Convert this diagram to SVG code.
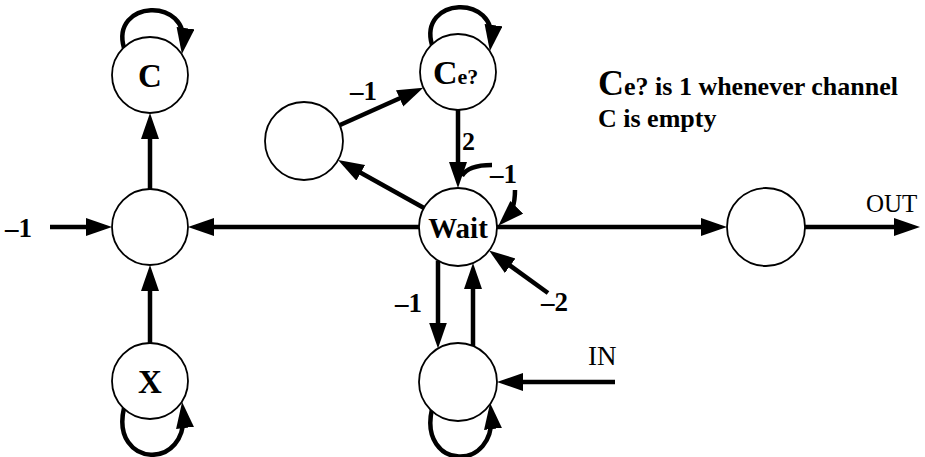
<svg xmlns="http://www.w3.org/2000/svg" width="925" height="457" viewBox="0 0 925 457">
<defs>
<marker id="ah" markerUnits="userSpaceOnUse" markerWidth="28" markerHeight="20" refX="18" refY="9" orient="auto">
<path d="M0,0 L26,9 L0,18 z" fill="#000"/>
</marker>
<style>
.n{fill:#fff;stroke:#000;stroke-width:1.8}
.e{fill:none;stroke:#000;stroke-width:4.5;marker-end:url(#ah)}
.p{fill:none;stroke:#000;stroke-width:4.5}
.t{font-family:"Liberation Serif","Times New Roman",serif;font-weight:bold;fill:#000}
.r{font-family:"Liberation Serif","Times New Roman",serif;fill:#000}
</style>
</defs>
<rect width="925" height="457" fill="#fff"/>
<g id="connectors">
<path class="e" d="M124,48 C110,0 190,-4 183,46"/>
<path class="e" d="M432,45 C418,-3 498,-7 491,43"/>
<path class="e" d="M124,408 C110,468 190,472 183,410"/>
<path class="e" d="M432,409 C418,470 498,474 491,411"/>
<line class="e" x1="150" y1="189" x2="150" y2="121"/>
<line class="e" x1="150" y1="343" x2="150" y2="273"/>
<line class="e" x1="50" y1="227" x2="104" y2="227"/>
<line class="e" x1="419" y1="227" x2="196" y2="227"/>
<line class="e" x1="497" y1="227" x2="719" y2="227"/>
<line class="e" x1="805" y1="227" x2="912" y2="227"/>
<line class="e" x1="424" y1="208" x2="345" y2="164"/>
<line class="e" x1="340" y1="125" x2="416" y2="91"/>
<line class="e" x1="458" y1="110" x2="458" y2="180"/>
<path class="p" d="M492,165 Q468,165 462,176"/>
<path class="e" d="M515,190 C515,205 512,212 504,220"/>
<line class="e" x1="548" y1="293" x2="495.6" y2="255.2"/>
<line class="e" x1="438" y1="260.5" x2="438" y2="340.5"/>
<line class="e" x1="473" y1="346" x2="473" y2="271"/>
<line class="e" x1="615" y1="382" x2="505" y2="382"/>
</g>
<g id="node-C"><circle class="n" cx="150" cy="75" r="38"/><text class="t" x="150" y="87" font-size="33" text-anchor="middle">C</text></g>
<g id="node-M"><circle class="n" cx="150" cy="227" r="38"/></g>
<g id="node-X"><circle class="n" cx="150" cy="381" r="38"/><text class="t" x="150" y="393" font-size="33" text-anchor="middle">X</text></g>
<g id="node-Ce"><circle class="n" cx="458" cy="72" r="38"/><text class="t" x="433" y="84"><tspan font-size="34">C</tspan><tspan font-size="22">e?</tspan></text></g>
<g id="node-U"><circle class="n" cx="304" cy="141" r="39"/></g>
<g id="node-Wait"><circle class="n" cx="458" cy="227" r="39"/><text class="t" x="458" y="238" font-size="29" text-anchor="middle">Wait</text></g>
<g id="node-B"><circle class="n" cx="458" cy="382" r="39"/></g>
<g id="node-Out"><circle class="n" cx="766" cy="227" r="39"/></g>
<g id="labels">
<text class="t" x="5" y="237" font-size="27">–1</text>
<text class="t" x="350" y="100" font-size="27">–1</text>
<text class="t" x="462" y="150" font-size="26">2</text>
<text class="t" x="490" y="183" font-size="27">–1</text>
<text class="t" x="541" y="311" font-size="27">–2</text>
<text class="t" x="395" y="312" font-size="27">–1</text>
<text class="r" x="866" y="212" font-size="25">OUT</text>
<text class="r" x="588" y="365" font-size="27">IN</text>
<text class="t" x="598" y="95"><tspan font-size="36">C</tspan><tspan font-size="26">e? is 1 whenever channel</tspan></text>
<text class="t" x="598" y="127" font-size="26">C is empty</text>
</g>
</svg>
